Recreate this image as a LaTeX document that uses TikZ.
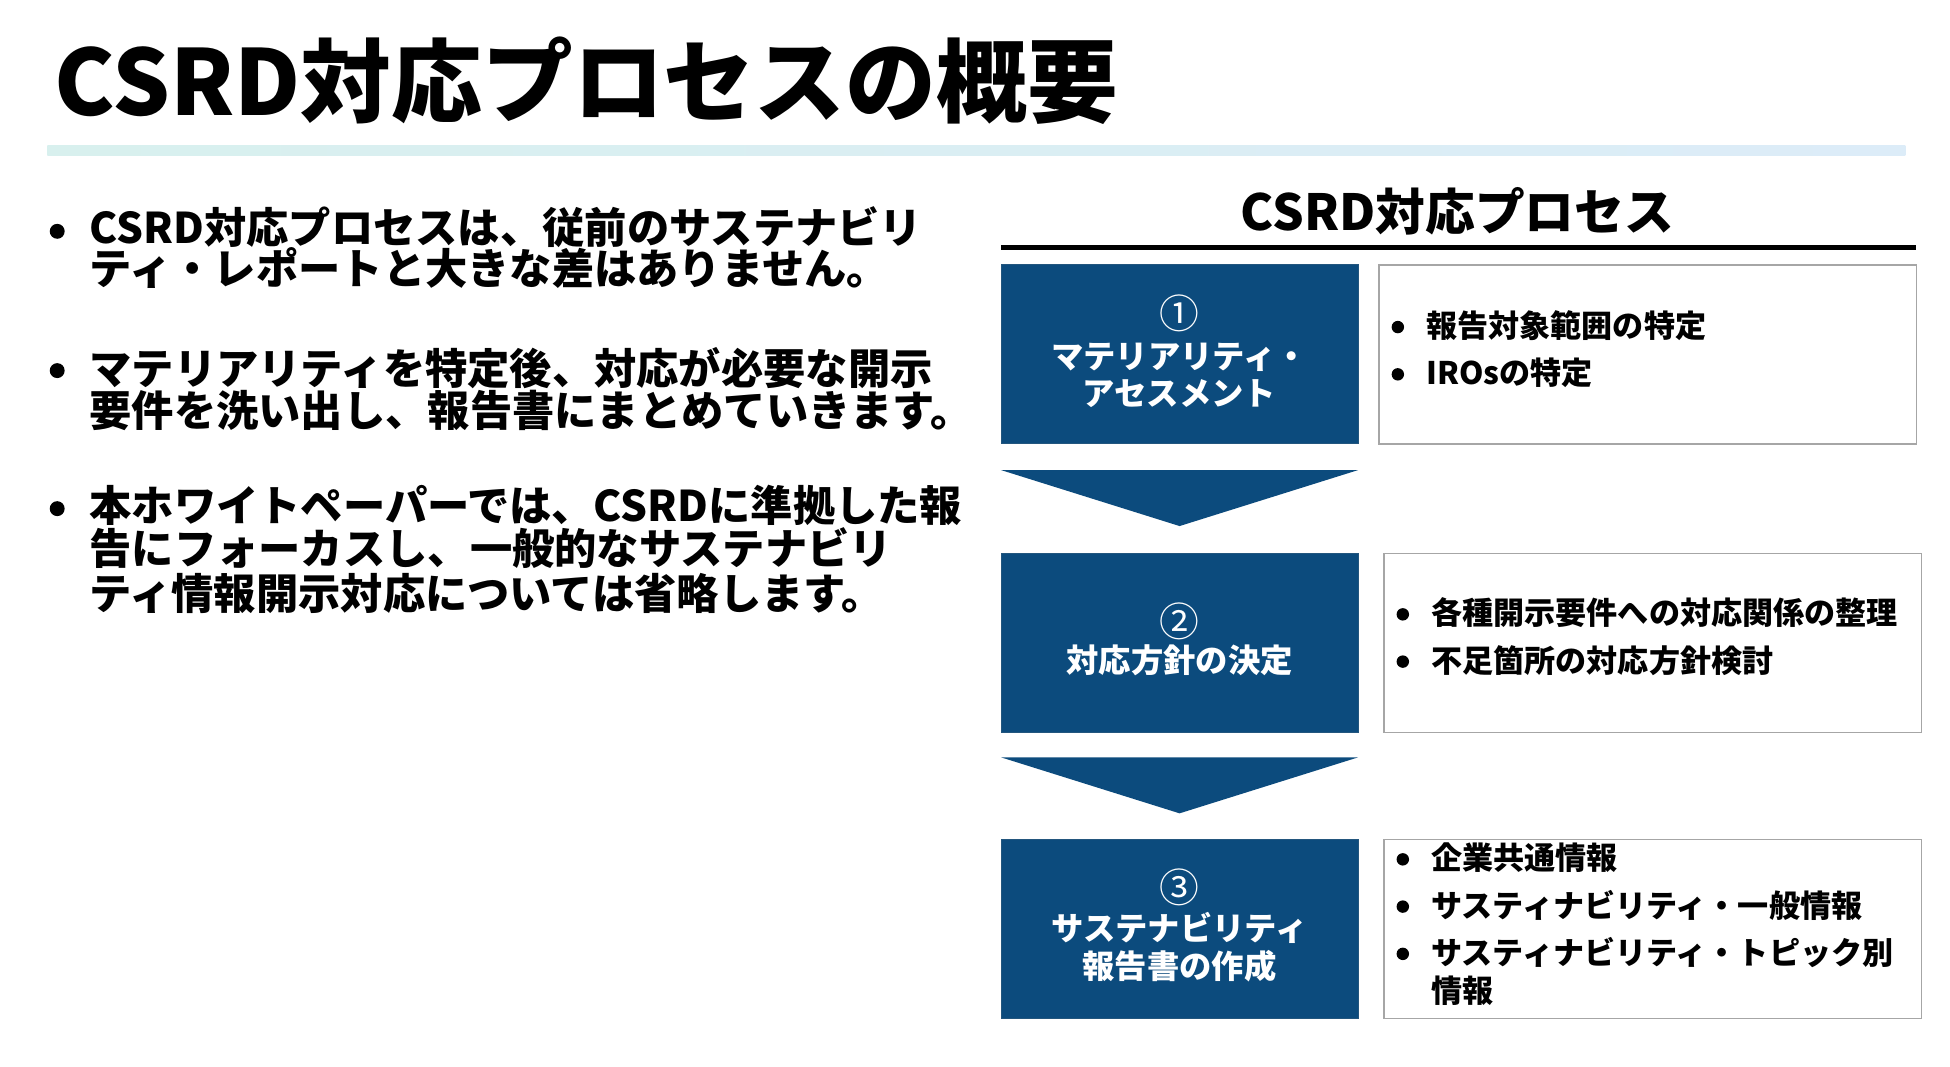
\documentclass[tikz,border=0pt]{standalone}
\usepackage{fontspec}
\setmainfont{Noto Sans CJK JP}
\definecolor{stepblue}{RGB}{12,75,125}
\definecolor{ruleL}{RGB}{216,240,238}
\definecolor{ruleR}{RGB}{220,236,248}
\definecolor{boxgray}{RGB}{166,166,166}
\begin{document}
\begin{tikzpicture}[x=1pt,y=-1pt,
  every node/.style={inner sep=0pt,outer sep=0pt},
  ttl/.style={font=\fontsize{73}{88}\selectfont\bfseries,anchor=base west},
  lt/.style={font=\fontsize{34}{40}\selectfont\bfseries,anchor=base west},
  rhead/.style={font=\fontsize{40}{48}\selectfont\bfseries,anchor=base},
  bt/.style={font=\fontsize{26}{32}\selectfont\bfseries,text=white,anchor=base},
  num/.style={font=\fontsize{32}{36}\selectfont,text=white,anchor=base},
  wt/.style={font=\fontsize{25}{30}\selectfont\bfseries,anchor=base west},
  bigdot/.style={circle,fill=black,minimum size=12pt},
  smalldot/.style={circle,fill=black,minimum size=10pt},
  stepbox/.style={rectangle,fill=stepblue,draw=stepblue!80!gray,line width=0.8pt,minimum width=287pt,minimum height=144pt,anchor=north west},
  descbox/.style={rectangle,fill=white,draw=boxgray,line width=1.2pt,minimum width=432pt,minimum height=144pt,anchor=north west},
  chev/.style={fill=stepblue}]
\useasboundingbox (0,0) rectangle (1568,857.2);

% title
\node[ttl] (title) at (44,93) {CSRD対応プロセスの概要};
\shade[left color=ruleL,right color=ruleR] (38,117) rectangle (1532,125);

% left bullets
\node[bigdot] (b1) at (46,186) {};
\node[lt] (p1a) at (72,196) {CSRD対応プロセスは、従前のサステナビリ};
\node[lt] (p1b) at (72,229) {ティ・レポートと大きな差はありません。};
\node[bigdot] (b2) at (46,298) {};
\node[lt] (p2a) at (72,309) {マテリアリティを特定後、対応が必要な開示};
\node[lt] (p2b) at (72,343) {要件を洗い出し、報告書にまとめていきます。};
\node[bigdot] (b3) at (46,409) {};
\node[lt] (p3a) at (72,419) {本ホワイトペーパーでは、CSRDに準拠した報};
\node[lt] (p3b) at (72,454) {告にフォーカスし、一般的なサステナビリ};
\node[lt] (p3c) at (72,490) {ティ情報開示対応については省略します。};

% right heading
\node[rhead] (rh) at (1172,185) {CSRD対応プロセス};
\draw[line width=4pt] (805,199) -- (1541,199);

% step boxes
\node[stepbox] (s1) at (805,213) {};
\node[stepbox] (s2) at (805,445) {};
\node[stepbox] (s3) at (805,675) {};
\fill[chev] (805,378) -- (1092,378) -- (948.5,423) -- cycle;
\fill[chev] (805,609) -- (1092,609) -- (948.5,654) -- cycle;

\node[num] (s1n) at (948.5,264) {①};
\node[bt] (s1a) at (948.5,296) {マテリアリティ・};
\node[bt] (s1b) at (948.5,326) {アセスメント};
\node[num] (s2n) at (948.5,512) {②};
\node[bt] (s2a) at (948.5,541) {対応方針の決定};
\node[num] (s3n) at (948.5,726) {③};
\node[bt] (s3a) at (948.5,756) {サステナビリティ};
\node[bt] (s3b) at (948.5,787) {報告書の作成};

% description boxes
\node[descbox] (d1) at (1109,213) {};
\node[descbox] (d2) at (1113,445) {};
\node[descbox] (d3) at (1113,675) {};

\node[smalldot] (d1b1) at (1124,263) {};
\node[wt] (d1t1) at (1147,271.5) {報告対象範囲の特定};
\node[smalldot] (d1b2) at (1124,301) {};
\node[wt] (d1t2) at (1147,309.5) {IROsの特定};

\node[smalldot] (d2b1) at (1128,494) {};
\node[wt] (d2t1) at (1151,502.5) {各種開示要件への対応関係の整理};
\node[smalldot] (d2b2) at (1128,532) {};
\node[wt] (d2t2) at (1151,540.5) {不足箇所の対応方針検討};

\node[smalldot] (d3b1) at (1128,691) {};
\node[wt] (d3t1) at (1151,699.5) {企業共通情報};
\node[smalldot] (d3b2) at (1128,729) {};
\node[wt] (d3t2) at (1151,737.5) {サスティナビリティ・一般情報};
\node[smalldot] (d3b3) at (1128,767) {};
\node[wt] (d3t3) at (1151,775.5) {サスティナビリティ・トピック別};
\node[wt] (d3t4) at (1151,806.5) {情報};
\end{tikzpicture}
\end{document}
